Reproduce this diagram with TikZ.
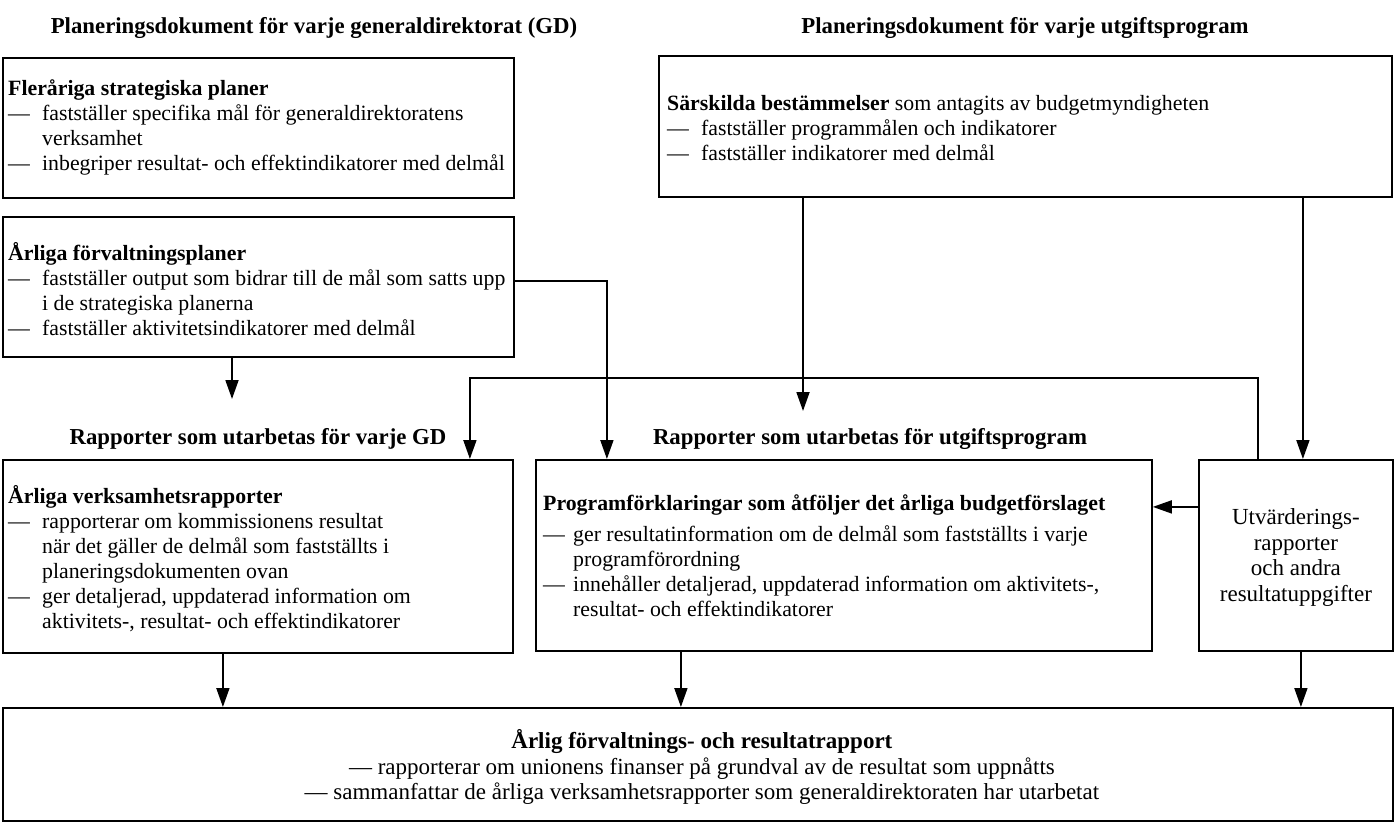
\documentclass[tikz,border=0pt]{standalone}
\usepackage{fontspec}
\setmainfont{Liberation Serif}
\usetikzlibrary{arrows.meta,calc}
\newcommand\dsh{\makebox[34pt][l]{—}}
\newcommand\ind{\hspace*{34pt}}
\newcommand\dshE{\makebox[30pt][l]{—}}
\newcommand\indE{\hspace*{30pt}}
\begin{document}
\begin{tikzpicture}[x=1pt,y=-1pt,
 box/.style={draw, line width=1.8pt, anchor=north west, inner sep=0pt},
 txt/.style={align=left, inner sep=0pt, anchor=west, font=\fontsize{21.8}{25}\selectfont},
 ctxt/.style={align=center, inner sep=0pt, font=\fontsize{23}{25.5}\selectfont},
 head/.style={inner sep=0pt, anchor=base, font=\fontsize{22.8}{25}\selectfont\bfseries},
 arr/.style={-{Triangle[width=13pt,length=19pt]}, line width=1.8pt}]
\useasboundingbox (0,0) rectangle (1396,827);

% headings
\node[head] (H1) at (314,33) {Planeringsdokument för varje generaldirektorat (GD)};
\node[head] (H2) at (1025,33) {Planeringsdokument för varje utgiftsprogram};
\node[head] (H3) at (258,444) {Rapporter som utarbetas för varje GD};
\node[head] (H4) at (870,444) {Rapporter som utarbetas för utgiftsprogram};

% boxes
\node[box, minimum width=511pt, minimum height=140pt] (A) at (2,57) {};
\node[box, minimum width=511pt, minimum height=140pt] (B) at (2,216) {};
\node[box, minimum width=733pt, minimum height=141pt] (C) at (658,55) {};
\node[box, minimum width=510pt, minimum height=193pt] (D) at (2,459) {};
\node[box, minimum width=616pt, minimum height=191pt] (E) at (535,459) {};
\node[box, minimum width=194pt, minimum height=191pt] (F) at (1198,459) {};
\node[box, minimum width=1390pt, minimum height=113pt] (G) at (2,707) {};

% texts
\node[txt] (At) at ([xshift=6pt]A.west) {\textbf{Fleråriga strategiska planer}\\
\dsh fastställer specifika mål för generaldirektoratens\\
\ind verksamhet\\
\dsh inbegriper resultat- och effektindikatorer med delmål};

\node[txt] (Bt) at ([xshift=6pt,yshift=-2pt]B.west) {\textbf{Årliga förvaltningsplaner}\\
\dsh fastställer output som bidrar till de mål som satts upp\\
\ind i de strategiska planerna\\
\dsh fastställer aktivitetsindikatorer med delmål};

\node[txt] (Ct) at ([xshift=9pt,yshift=-2pt]C.west) {\textbf{Särskilda bestämmelser} som antagits av budgetmyndigheten\\
\dsh fastställer programmålen och indikatorer\\
\dsh fastställer indikatorer med delmål};

\node[txt] (Dt) at ([xshift=6pt,yshift=-2pt]D.west) {\textbf{Årliga verksamhetsrapporter}\\
\dsh rapporterar om kommissionens resultat\\
\ind när det gäller de delmål som fastställts i\\
\ind planeringsdokumenten ovan\\
\dsh ger detaljerad, uppdaterad information om\\
\ind aktivitets-, resultat- och effektindikatorer};

\node[txt] (Et) at ([xshift=8pt]E.west) {\textbf{Programförklaringar som åtföljer det årliga budgetförslaget}\\[6pt]
\dshE ger resultatinformation om de delmål som fastställts i varje\\
\indE programförordning\\
\dshE innehåller detaljerad, uppdaterad information om aktivitets-,\\
\indE resultat- och effektindikatorer};

\node[ctxt] (Ft) at ([yshift=-2pt]F.center) {Utvärderings-\\rapporter\\och andra\\resultatuppgifter};

\node[ctxt] (Gt) at ([xshift=4pt,yshift=-3pt]G.center) {\textbf{Årlig förvaltnings- och resultatrapport}\\
— rapporterar om unionens finanser på grundval av de resultat som uppnåtts\\
— sammanfattar de årliga verksamhetsrapporter som generaldirektoraten har utarbetat};

% connectors
\coordinate (tGD) at (232,399);
\coordinate (tUP) at (803,411);
\draw[arr] (B.south -| tGD) -- (tGD);
\draw[arr] ([yshift=6pt]B.east) -| ([xshift=-237pt]E.north);
\draw[arr] (C.south -| tUP) -- (tUP);
\draw[arr] ([xshift=7pt]F.north |- C.south) -- ([xshift=7pt]F.north);
\draw[arr] ([xshift=-38pt]F.north) -- ++(0,-81) -| ([xshift=212pt]D.north);
\draw[arr] ([yshift=48.5pt]F.west) -- ([yshift=48.5pt]F.west -| E.east);
\draw[arr] ([xshift=-35pt]D.south) -- ([xshift=-35pt]D.south |- G.north);
\draw[arr] ([xshift=-163pt]E.south) -- ([xshift=-163pt]E.south |- G.north);
\draw[arr] ([xshift=5pt]F.south) -- ([xshift=5pt]F.south |- G.north);
\end{tikzpicture}
\end{document}
